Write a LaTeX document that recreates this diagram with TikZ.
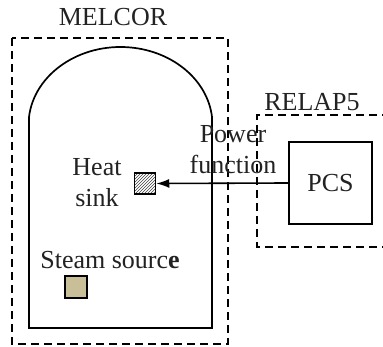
\documentclass[tikz,border=0pt]{standalone}
\usepackage{fontspec}
\setmainfont{Liberation Serif}
\usetikzlibrary{patterns,arrows.meta}
\definecolor{txt}{HTML}{222222}
\definecolor{tan}{HTML}{C8BF98}
\tikzset{
  dashbox/.style={draw=black, line width=1.7pt, dash pattern=on 8pt off 5pt},
  solidline/.style={draw=black, line width=1.7pt},
  lbl/.style={text=txt, font=\fontsize{26}{31}\selectfont, inner sep=0pt, align=center},
}
\begin{document}
\begin{tikzpicture}[x=1pt,y=-1pt]
\useasboundingbox (0,0) rectangle (383,347);
% MELCOR box
\draw[dashbox] (12,38) rectangle (228,344);
\node[lbl] (melcor) at (113,17) {MELCOR};
% vessel
\draw[solidline] (29,117) arc[start angle=185.89, end angle=354.11, x radius=92, y radius=78] -- (212,328) -- (29,328) -- cycle;
% RELAP5 box
\draw[dashbox] (390,115) -- (257,115) -- (257,247) -- (390,247);
\node[lbl] (relap) at (312,102) {RELAP5};
% PCS
\node[solidline, draw, minimum width=83pt, minimum height=82pt, inner sep=0pt, font=\fontsize{26}{31}\selectfont, text=txt] (pcs) at (330.5,183) {PCS};
% heat sink
\node[draw=black, line width=1.5pt, fill=white, pattern=north east lines, pattern color=black!75, minimum size=21pt, inner sep=0pt] (sink) at (145,183.5) {};
\node[lbl] (sinklbl) at (97,183) {Heat\\sink};
% arrow
\draw[line width=1.6pt, -{Latex[length=13pt,width=9pt]}] (pcs.west) -- (sink.east);
\node[lbl] (power) at (233,150) {Power\\function};
% steam source
\node[lbl] (steamlbl) at (110,260) {Steam sourc\textbf{e}};
\node[draw=black, line width=1.5pt, fill=tan, minimum size=22pt, inner sep=0pt] (steam) at (76,287) {};
\end{tikzpicture}
\end{document}
